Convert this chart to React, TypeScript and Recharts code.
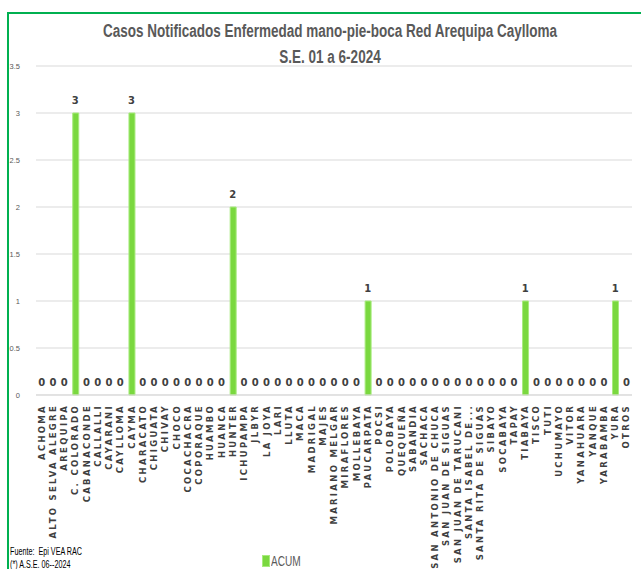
import React from "react";
import { ComposedChart, Bar, Line, XAxis, YAxis, CartesianGrid, LabelList } from "recharts";

const categories: string[] = [
  "ACHOMA", "ALTO SELVA ALEGRE", "AREQUIPA", "C. COLORADO", "CABANACONDE", "CALLALLI", "CAYARANI",
  "CAYLLOMA", "CAYMA", "CHARACATO", "CHIGUATA", "CHIVAY", "CHOCO", "COCACHACRA", "COPORAQUE",
  "HUAMBO", "HUANCA", "HUNTER", "ICHUPAMPA", "JLBYR", "LA JOYA", "LARI", "LLUTA", "MACA",
  "MADRIGAL", "MAJES", "MARIANO MELGAR", "MIRAFLORES", "MOLLEBAYA", "PAUCARPATA", "POCSI",
  "POLOBAYA", "QUEQUEÑA", "SABANDIA", "SACHACA", "SAN ANTONIO DE CHUCA", "SAN JUAN DE SIGUAS",
  "SAN JUAN DE TARUCANI", "SANTA ISABEL DE...", "SANTA RITA DE SIGUAS", "SIBAYO", "SOCABAYA",
  "TAPAY", "TIABAYA", "TISCO", "TUTI", "UCHUMAYO", "VITOR", "YANAHUARA", "YANQUE", "YARABAMBA",
  "YURA", "OTROS",
];

const acum: number[] = [
  0, 0, 0, 3, 0, 0, 0, 0, 3, 0, 0, 0, 0, 0, 0, 0, 0, 2, 0, 0, 0, 0, 0, 0, 0, 0, 0, 0, 0, 1,
  0, 0, 0, 0, 0, 0, 0, 0, 0, 0, 0, 0, 0, 1, 0, 0, 0, 0, 0, 0, 0, 1, 0,
];

const yTicks: number[] = [0, 0.5, 1, 1.5, 2, 2.5, 3, 3.5];

const titleLine1 = "Casos  Notificados Enfermedad mano-pie-boca Red Arequipa Caylloma";
const titleLine2 = "S.E. 01 a 6-2024";
const seriesName = "ACUM";
const source1 = "Fuente:  Epi VEA RAC";
const source2 = "(*) A.S.E. 06--2024";

const data = categories.map((c, i) => ({ name: c, ACUM: acum[i] }));

const sans = "'Liberation Sans', Arial, sans-serif";

const XTick = (props: any) => {
  const { x, y, payload } = props;
  return (
    <text
      x={x}
      y={y}
      transform={`rotate(-90, ${x}, ${y})`}
      textAnchor="end"
      dy="0.36em"
      fontFamily="'DejaVu Sans', Verdana, sans-serif"
      fontWeight="bold"
      fontSize={8.5}
      letterSpacing={2.3}
      fill="#404040"
    >
      {payload.value}
    </text>
  );
};

const renderValueLabel = (p: any) => {
  const { x, y, value } = p;
  return (
    <text
      x={Number(x)}
      y={Number(y) - 9}
      textAnchor="middle"
      fontSize={10}
      fontWeight="bold"
      fill="#404040"
      fontFamily="'DejaVu Sans', sans-serif"
    >
      {value}
    </text>
  );
};

export default function App() {
  return (
    <div style={{ position: "absolute", left: 0, top: 0, width: 641, height: 569, background: "#fff", overflow: "hidden" }}>
      <div style={{ position: "absolute", left: 7, top: 12, width: 700, height: 600, borderLeft: "2px solid #00B050", borderTop: "2px solid #00B050" }} />
      <div style={{ position: "absolute", left: 0, top: 18, width: 660, textAlign: "center", fontFamily: sans, fontWeight: "bold", fontSize: 18, color: "#595959", lineHeight: "26px", transform: "scaleX(0.75)", transformOrigin: "330px 0" }}>
        <div>{titleLine1}</div>
        <div>{titleLine2}</div>
      </div>
      <ComposedChart
        width={641}
        height={569}
        data={data}
        margin={{ top: 66, right: 9, left: 0, bottom: 0 }}
        barCategoryGap={0}
      >
        <CartesianGrid vertical={false} stroke="#D9D9D9" strokeWidth={1} />
        <XAxis
          dataKey="name"
          interval={0}
          tick={<XTick />}
          tickLine={false}
          axisLine={{ stroke: "#D9D9D9" }}
          height={174}
          tickMargin={3}
        />
        <YAxis
          domain={[0, 3.5]}
          ticks={yTicks}
          width={36}
          tickLine={false}
          axisLine={false}
          tickMargin={10}
          tick={{ fontSize: 7.5, fill: "#595959", fontFamily: sans }}
        />
        <Bar dataKey="ACUM" name={seriesName} fill="#7AD83F" stroke="#A8EB7E" strokeWidth={1} barSize={6} isAnimationActive={false} />
        <Line dataKey="ACUM" stroke="none" dot={false} activeDot={false} legendType="none" isAnimationActive={false}>
          <LabelList dataKey="ACUM" content={renderValueLabel} />
        </Line>
      </ComposedChart>
      <div style={{ position: "absolute", left: 262, top: 553, display: "flex", alignItems: "center", fontFamily: sans, fontSize: 14, color: "#595959", lineHeight: "16px" }}>
        <span style={{ display: "inline-block", width: 6, height: 10, background: "#7AD83F", border: "1px solid #A8EB7E", marginRight: 1 }} />
        <span style={{ display: "inline-block", transform: "scaleX(0.72)", transformOrigin: "0 0" }}>{seriesName}</span>
      </div>
      <div style={{ position: "absolute", left: 10, top: 545, fontFamily: sans, fontSize: 10, color: "#000", lineHeight: "13px", transform: "scaleX(0.72)", transformOrigin: "0 0", whiteSpace: "pre" }}>
        <div>{source1}</div>
        <div>{source2}</div>
      </div>
    </div>
  );
}
